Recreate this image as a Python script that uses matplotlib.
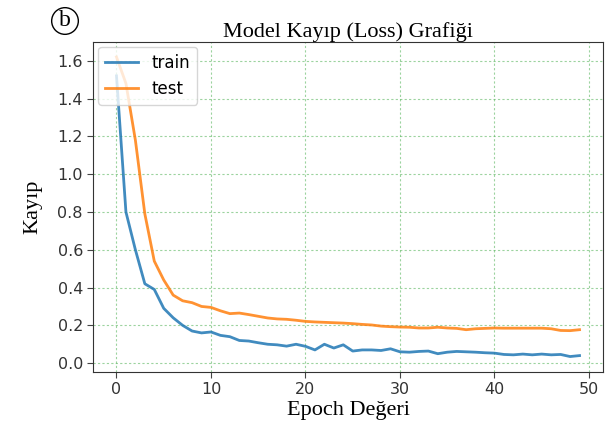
import matplotlib
matplotlib.use("Agg")
import matplotlib.pyplot as plt
import numpy as np

epochs = list(range(50))
train_loss = [1.52, 0.80, 0.60, 0.42, 0.39, 0.29, 0.24, 0.20, 0.17, 0.16,
              0.165, 0.147, 0.14, 0.12, 0.117, 0.108, 0.10, 0.097, 0.09, 0.10,
              0.089, 0.07, 0.10, 0.08, 0.097, 0.064, 0.07, 0.07, 0.067, 0.076,
              0.06, 0.058, 0.062, 0.064, 0.05, 0.058, 0.062, 0.06, 0.058, 0.055,
              0.053, 0.046, 0.044, 0.048, 0.044, 0.048, 0.044, 0.046, 0.035, 0.04]
test_loss = [1.62, 1.48, 1.18, 0.79, 0.54, 0.44, 0.36, 0.33, 0.32, 0.30,
             0.295, 0.277, 0.262, 0.265, 0.257, 0.248, 0.239, 0.234, 0.232, 0.227,
             0.221, 0.218, 0.216, 0.214, 0.212, 0.209, 0.205, 0.202, 0.196, 0.193,
             0.191, 0.19, 0.186, 0.186, 0.19, 0.186, 0.184, 0.177, 0.182, 0.184,
             0.186, 0.185, 0.185, 0.185, 0.185, 0.185, 0.182, 0.173, 0.172, 0.177]
series_labels = ["train", "test"]
title = "Model Kayıp (Loss) Grafiği"
xlabel = "Epoch Değeri"
ylabel = "Kayıp"
panel_label = "b"

fig = plt.figure(figsize=(6.1, 4.33), dpi=100)
ax = fig.add_axes([0.153, 0.142, 0.835, 0.761])

ax.plot(epochs, train_loss, color="#1f77b4", lw=2, label=series_labels[0], alpha=0.85)
ax.plot(epochs, test_loss, color="#ff7f0e", lw=2, label=series_labels[1], alpha=0.85)

ax.set_yticks(np.arange(0, 1.61, 0.2))
ax.set_xticks([0, 10, 20, 30, 40, 50])
ax.tick_params(labelsize=11.5, colors="#444444", length=4)
for lbl in ax.get_xticklabels() + ax.get_yticklabels():
    lbl.set_color("#333333")
ax.grid(True, color="#4caf50", linestyle=(0, (2, 2)), lw=0.8, alpha=0.55)
for s in ax.spines.values():
    s.set_color("#333333")

leg = ax.legend(loc="upper left", fontsize=12, borderaxespad=0.3, handlelength=2.0,
                framealpha=0.8)
leg.get_frame().set_edgecolor("#cccccc")

ax.set_title(title, family="Liberation Serif", fontsize=16, pad=2)
ax.set_xlabel(xlabel, family="Liberation Serif", fontsize=16, labelpad=3)
ax.set_ylabel(ylabel, family="Liberation Serif", fontsize=16, labelpad=11)

fig.text(65 / 610, 1 - 21 / 433, panel_label, family="Liberation Serif", fontsize=17,
         ha="center", va="center",
         bbox=dict(boxstyle="circle,pad=0.12", fc="white", ec="black", lw=1))

fig.savefig("out.png", dpi=100)
